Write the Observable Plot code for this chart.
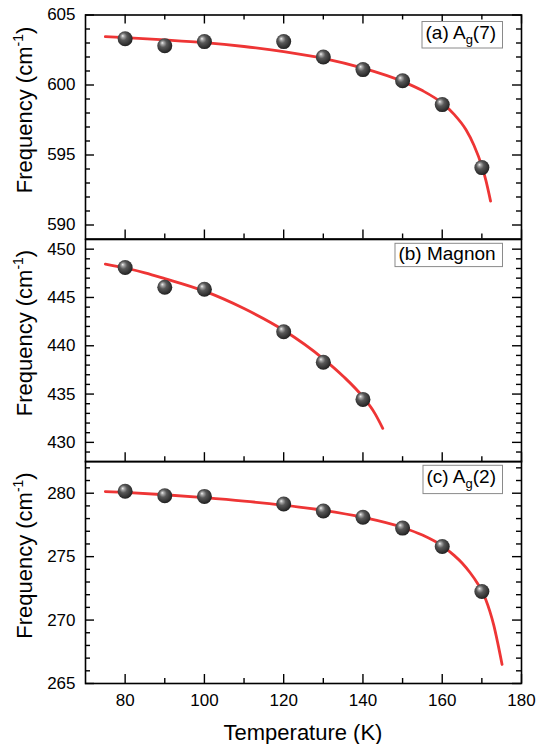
<!DOCTYPE html>
<html><head><meta charset="utf-8">
<script src="https://cdn.jsdelivr.net/npm/d3@7"></script>
<script src="https://cdn.jsdelivr.net/npm/@observablehq/plot@0.6"></script>
<style>
body{margin:0;background:#fff;}
#chart{position:relative;width:546px;height:744px;background:#fff;overflow:hidden;font-family:"Liberation Sans",Arial,sans-serif;}
#chart svg{position:absolute;left:0;overflow:visible;}
</style></head><body><div id="chart"></div>
<script>
// ---- data ----
const temps = [80, 90, 100, 120, 130, 140, 150, 160, 170];
const ag7Freq = [603.3, 602.8, 603.1, 603.1, 602.0, 601.1, 600.3, 598.6, 594.1];
const magnonTemps = [80, 90, 100, 120, 130, 140];
const magnonFreq = [448.1, 446.05, 445.85, 441.45, 438.3, 434.45];
const ag2Freq = [280.15, 279.8, 279.75, 279.15, 278.6, 278.1, 277.25, 275.8, 272.25];

// fitted curves
const ag7FitT = [75, 80, 90, 100, 110, 120, 130, 140, 150, 155, 160, 163, 166, 168, 170, 171, 172.2];
const ag7FitF = [603.45, 603.38, 603.22, 603.03, 602.75, 602.38, 601.9, 601.2, 600.25, 599.6, 598.7, 597.9, 596.8, 595.7, 594.2, 593.2, 591.7];
const magnonFitT = [75, 80, 85, 90, 100, 110, 120, 130, 135, 140, 143, 145];
const magnonFitF = [448.45, 448.05, 447.55, 446.95, 445.65, 443.85, 441.6, 438.65, 436.85, 434.7, 433.0, 431.45];
const ag2FitT = [75, 80, 90, 100, 110, 120, 130, 140, 150, 155, 160, 163, 165, 167, 169, 170, 171, 172, 173, 174, 175.1];
const ag2FitF = [280.13, 280.06, 279.88, 279.65, 279.38, 279.05, 278.65, 278.1, 277.3, 276.7, 275.85, 275.1, 274.5, 273.75, 272.85, 272.3, 271.6, 270.7, 269.6, 268.2, 266.5];

const xMajor = [80, 100, 120, 140, 160, 180];
const xMinor = [90, 110, 130, 150, 170];
const ag7Major = [590, 595, 600, 605];
const magnonMajor = [430, 435, 440, 445, 450];
const ag2Major = [265, 270, 275, 280];

// ---- layout ----
const W = 546, ML = 85, MR = 25;
const FW = W - ML - MR;
const FONT = '"Liberation Sans", Arial, sans-serif';
const container = document.getElementById("chart");

function range(a, b) { const r = []; for (let v = a; v <= b; v++) r.push(v); return r; }

function panel(cfg) {
  const pts = cfg.t.map((t, i) => ({t, f: cfg.f[i]}));
  const fit = cfg.fitT.map((t, i) => ({t, f: cfg.fitF[i]}));
  const ph = cfg.height - cfg.mt - cfg.mb;
  const minorY = range(Math.ceil(cfg.domain[0]), Math.floor(cfg.domain[1])).filter(v => !cfg.major.includes(v) && v > cfg.domain[0] && v < cfg.domain[1]);
  const marks = [
    Plot.axisY(cfg.major, {tickSize: 0, tickPadding: 10, label: null, fontSize: 17}),
    Plot.tickY(cfg.major, {insetRight: FW - 9, stroke: "black", strokeWidth: 1.4}),
    Plot.tickY(cfg.major, {insetLeft: FW - 9, stroke: "black", strokeWidth: 1.4}),
    Plot.tickY(minorY, {insetRight: FW - 5, stroke: "black", strokeWidth: 1.4}),
    Plot.tickY(minorY, {insetLeft: FW - 5, stroke: "black", strokeWidth: 1.4}),
    Plot.tickX(xMajor, {insetTop: ph - 9, stroke: "black", strokeWidth: 1.4}),
    Plot.tickX(xMinor, {insetTop: ph - 5, stroke: "black", strokeWidth: 1.4}),
  ];
  if (cfg.topTicks) {
    marks.push(Plot.tickX(xMajor, {insetBottom: ph - 9, stroke: "black", strokeWidth: 1.4}));
    marks.push(Plot.tickX(xMinor, {insetBottom: ph - 5, stroke: "black", strokeWidth: 1.4}));
  }
  if (cfg.xAxis) marks.push(Plot.axisX(xMajor, {tickSize: 0, tickPadding: 10, label: null, fontSize: 17}));
  marks.push(
    Plot.line(fit, {x: "t", y: "f", stroke: "#ee3535", strokeWidth: 2.8, curve: "monotone-x"}),
    Plot.dot(pts, {x: "t", y: "f", r: 7.5, fill: `url(#${cfg.id})`, stroke: "none"}),
    Plot.frame({stroke: "black", strokeWidth: 1.6})
  );
  const svg = Plot.plot({
    width: W, height: cfg.height,
    marginLeft: ML, marginRight: MR, marginTop: cfg.mt, marginBottom: cfg.mb,
    x: {domain: [70, 180], axis: cfg.xAxis ? undefined : null},
    y: {domain: cfg.domain},
    style: {fontFamily: FONT, fontSize: "17px", color: "black", background: "transparent", overflow: "visible"},
    marks
  });
  svg.style.top = cfg.top + "px";
  container.appendChild(svg);
  const s = d3.select(svg);
  const g = s.append("defs").append("radialGradient").attr("id", cfg.id)
    .attr("cx", "0.45").attr("cy", "0.42").attr("r", "0.6").attr("fx", "0.33").attr("fy", "0.3");
  [["0", "#f4f4f4"], ["0.16", "#a8a8a8"], ["0.42", "#585858"], ["0.8", "#333"], ["1", "#1c1c1c"]]
    .forEach(([o, c]) => g.append("stop").attr("offset", o).attr("stop-color", c));
  // y title
  const yt = s.append("text").attr("transform", `translate(32,${cfg.yTitleY}) rotate(-90)`)
    .attr("text-anchor", "middle").attr("font-family", FONT).attr("font-size", 22).attr("fill", "black");
  yt.append("tspan").text("Frequency (cm");
  yt.append("tspan").attr("font-size", 14).attr("dy", -9).text("-1");
  yt.append("tspan").attr("dy", 9).text(")");
  // label box
  const b = cfg.box;
  s.append("rect").attr("x", b.x).attr("y", b.y).attr("width", b.w).attr("height", b.h)
    .attr("fill", "white").attr("stroke", "#8a8a8a").attr("stroke-width", 1);
  const lt = s.append("text").attr("x", b.x + 3.5).attr("y", b.base).attr("text-anchor", "start")
    .attr("font-family", FONT).attr("font-size", 19).attr("fill", "black");
  lt.append("tspan").text(b.pre);
  if (b.sub) {
    lt.append("tspan").attr("font-size", 13).attr("dy", 5).text(b.sub);
    lt.append("tspan").attr("dy", -5).text(b.post);
  }
  return s;
}

panel({id: "sphA", t: temps, f: ag7Freq, fitT: ag7FitT, fitF: ag7FitF, domain: [589, 605], major: ag7Major,
  top: 0, height: 238.5, mt: 14.5, mb: 0, topTicks: true, xAxis: false, yTitleY: 110,
  box: {x: 422, y: 21.5, w: 80.5, h: 26.5, base: 39, pre: "(a) A", sub: "g", post: "(7)"}});
panel({id: "sphB", t: magnonTemps, f: magnonFreq, fitT: magnonFitT, fitF: magnonFitF, domain: [428, 451], major: magnonMajor,
  top: 238.5, height: 222.2, mt: 0, mb: 0, topTicks: false, xAxis: false, yTitleY: 94,
  box: {x: 395, y: 4.3, w: 107.5, h: 23.3, base: 21, pre: "(b) Magnon"}});
const sc = panel({id: "sphC", t: temps, f: ag2Freq, fitT: ag2FitT, fitF: ag2FitF, domain: [265, 282.5], major: ag2Major,
  top: 460.7, height: 283.3, mt: 0, mb: 61.3, topTicks: false, xAxis: true, yTitleY: 94.5,
  box: {x: 423, y: 4.3, w: 79.5, h: 28.3, base: 22.5, pre: "(c) A", sub: "g", post: "(2)"}});
sc.append("text").attr("x", (ML + W - MR) / 2).attr("y", 279.3).attr("text-anchor", "middle")
  .attr("font-family", FONT).attr("font-size", 22).attr("fill", "black").text("Temperature (K)");
</script>
</body></html>
